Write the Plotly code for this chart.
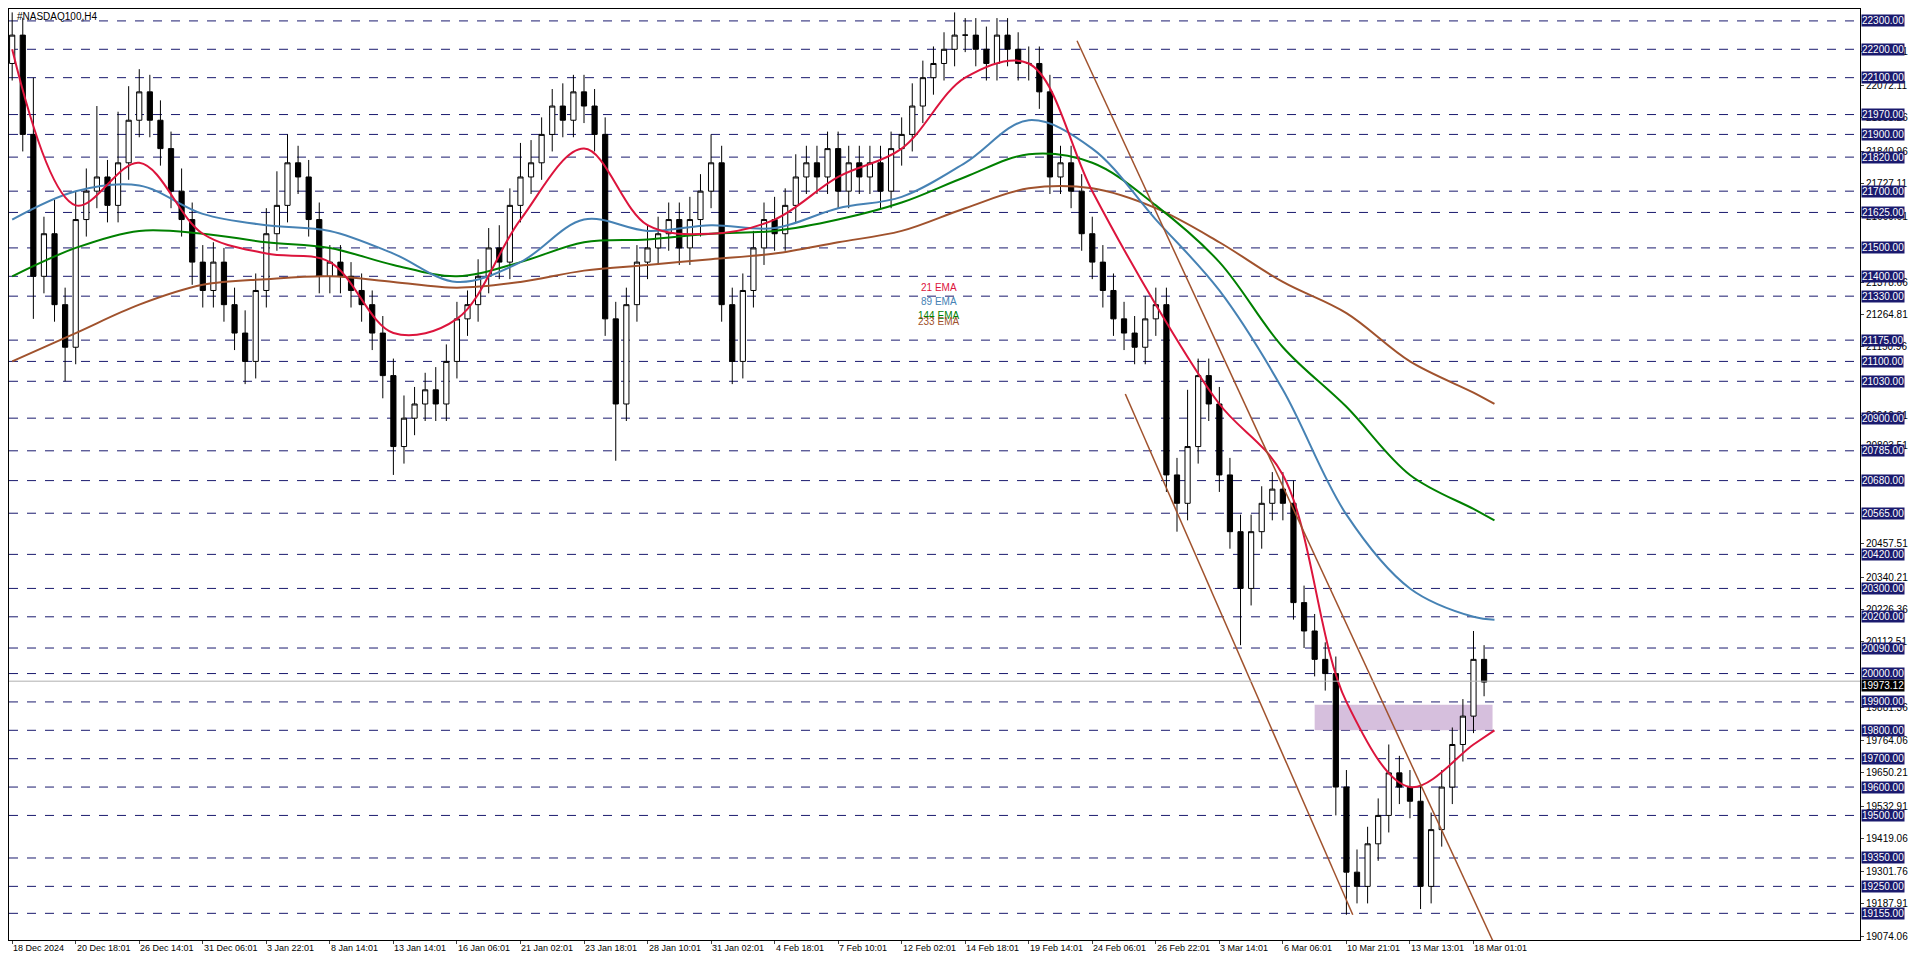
import plotly.graph_objects as go

title = "#NASDAQ100,H4"
tick_labels = ["18 Dec 2024","20 Dec 18:01","26 Dec 14:01","31 Dec 06:01","3 Jan 22:01","8 Jan 14:01",
               "13 Jan 14:01","16 Jan 06:01","21 Jan 02:01","23 Jan 18:01","28 Jan 10:01","31 Jan 02:01",
               "4 Feb 18:01","7 Feb 10:01","12 Feb 02:01","14 Feb 18:01","19 Feb 14:01","24 Feb 06:01",
               "26 Feb 22:01","3 Mar 14:01","6 Mar 06:01","10 Mar 21:01","13 Mar 13:01","18 Mar 01:01"]
bars_per_label = 6

first_open = 22150
closes = [22250,21900,21400,21550,21300,21150,
          21600,21700,21750,21650,21800,21950,
          22050,21950,21850,21700,21600,21450,
          21350,21450,21300,21200,21100,21350,
          21550,21650,21800,21750,21600,21400,
          21450,21400,21350,21300,21200,21050,
          20800,20900,20950,21000,20950,21100,
          21250,21300,21400,21500,21450,21650,
          21750,21800,21900,22000,21950,22050,
          22000,21900,21250,20950,21300,21450,
          21500,21550,21600,21500,21600,21700,
          21800,21300,21100,21350,21500,21600,
          21550,21650,21750,21800,21750,21850,
          21700,21800,21750,21800,21700,21850,
          21900,22000,22100,22150,22200,22250,
          22250,22200,22150,22250,22200,22150,
          22150,22050,21750,21800,21700,21550,
          21450,21350,21250,21200,21150,21250,
          21300,20700,20600,20800,21050,20950,
          20700,20500,20300,20500,20600,20650,
          20600,20250,20150,20050,20000,19600,
          19300,19250,19400,19500,19650,19600,
          19550,19250,19450,19600,19750,19850,
          20050,19970]
wick_up = [80,60,200,60,120,60,
           100,80,250,60,180,120,
           80,60,70,60,80,60,
           60,70,50,60,80,60,
           90,120,100,60,60,60,
           60,60,50,60,50,60,
           60,80,60,60,80,60,
           60,50,60,70,80,60,
           120,80,60,60,80,60,
           60,60,60,60,60,60,
           80,60,60,60,80,60,
           100,60,60,60,60,60,
           80,60,80,60,60,60,
           60,60,60,60,60,60,
           60,80,60,60,60,80,
           60,60,80,60,60,60,
           60,60,60,60,60,60,
           60,60,60,60,60,80,
           60,60,60,200,60,60,
           60,60,60,60,60,60,
           60,80,60,60,60,60,
           60,80,60,60,100,60,
           60,60,60,60,60,60,
           100,50]
wick_dn = [60,60,150,60,60,120,
           60,60,60,60,60,60,
           60,60,60,60,60,80,
           60,60,60,60,80,60,
           60,60,60,60,60,60,
           60,60,60,60,60,80,
           100,60,60,60,60,60,
           60,60,60,60,60,60,
           60,60,60,60,60,60,
           60,60,60,200,60,60,
           60,60,60,60,60,60,
           60,60,80,60,60,60,
           60,60,60,60,60,60,
           60,60,60,60,60,60,
           60,60,60,60,60,60,
           60,60,60,60,60,60,
           60,60,60,60,60,60,
           60,60,60,60,60,60,
           60,60,100,60,60,60,
           60,60,200,60,60,60,
           60,60,60,60,60,100,
           150,60,60,60,60,60,
           60,80,60,60,60,60,
           60,50]

ema_k = list(range(24)) + [23.33]
ema21 = [22200,21650,21800,21550,21480,21450,21200,21250,21600,21850,21580,21550,21600,21750,21850,22100,22150,21700,21300,20950,20700,19900,19600,19750,19800]
ema89 = [21600,21700,21720,21620,21580,21560,21480,21380,21450,21600,21560,21580,21570,21640,21680,21800,21950,21850,21600,21350,21000,20560,20300,20200,20190]
ema144 = [21400,21500,21560,21550,21520,21500,21440,21400,21450,21520,21530,21550,21560,21600,21660,21750,21830,21800,21650,21450,21150,20940,20700,20580,20540]
ema233 = [21100,21200,21300,21370,21390,21400,21380,21360,21380,21420,21440,21460,21480,21520,21560,21640,21710,21710,21640,21520,21380,21270,21100,20990,20950]

chan_upper_k = [16.76, 23.3]; chan_upper_p = [22230, 19060]
chan_lower_k = [17.52, 21.1]; chan_lower_p = [20985, 19150]
zone_k = [20.5, 23.3]; zone_p = [19800, 19890]

levels = [22300,22200,22100,21970,21900,21820,21700,21625,21500,21400,21330,21175,21100,21030,20900,
          20785,20680,20565,20420,20300,20200,20090,20000,19900,19800,19700,19600,19500,19350,19250,19155]
plain_ticks = [22193.41,22072.11,21958.26,21840.96,21727.11,21609.61,21378.66,21264.81,21150.96,20910.31,
               20803.51,20457.51,20340.21,20226.36,20112.51,19881.36,19764.06,19650.21,19532.91,19419.06,
               19301.76,19187.91,19074.06]
last_price = 19973.12

FONT = "Liberation Sans"
n = len(closes)
x = list(range(n))
opens = [first_open] + closes[:-1]
highs = [max(o, c) + w for o, c, w in zip(opens, closes, wick_up)]
lows = [min(o, c) - w for o, c, w in zip(opens, closes, wick_dn)]
kx = lambda ks: [k * bars_per_label for k in ks]

fig = go.Figure()
fig.add_shape(type="rect", x0=kx(zone_k)[0], x1=kx(zone_k)[1], y0=zone_p[0], y1=zone_p[1],
              fillcolor="rgba(200,170,210,0.75)", line_width=0, layer="below")
for lv in levels:
    fig.add_shape(type="line", xref="paper", x0=0, x1=1, y0=lv, y1=lv,
                  line=dict(color="#1a1a6e", width=1, dash="dash"), layer="below")
    fig.add_annotation(xref="paper", x=1, y=lv, text=f"{lv:.2f}", xanchor="left", xshift=1,
                       showarrow=False, bgcolor="#1a1a6e", font=dict(color="white", size=10, family=FONT),
                       borderpad=0)
fig.add_shape(type="line", xref="paper", x0=0, x1=1, y0=last_price, y1=last_price,
              line=dict(color="#b0b0b0", width=1))
fig.add_annotation(xref="paper", x=1, y=last_price, text=f"{last_price:.2f}", xanchor="left", xshift=1, yshift=-4,
                   showarrow=False, bgcolor="black", font=dict(color="white", size=10, family=FONT), borderpad=0)

fig.add_trace(go.Candlestick(x=x, open=opens, high=highs, low=lows, close=closes,
                             increasing=dict(line=dict(color="black", width=1), fillcolor="white"),
                             decreasing=dict(line=dict(color="black", width=1), fillcolor="black"),
                             whiskerwidth=0, showlegend=False))
for vals, col in [(ema233, "#a0522d"), (ema144, "#008000"), (ema89, "#4682b4"), (ema21, "#dc143c")]:
    fig.add_trace(go.Scatter(x=kx(ema_k), y=vals, mode="lines", line=dict(color=col, width=2, shape="spline"),
                             showlegend=False, hoverinfo="skip"))
for ks, ps in [(chan_upper_k, chan_upper_p), (chan_lower_k, chan_lower_p)]:
    fig.add_trace(go.Scatter(x=kx(ks), y=ps, mode="lines", line=dict(color="#a0522d", width=1.5),
                             showlegend=False, hoverinfo="skip"))

for i, (t, c) in enumerate([("21 EMA", "#dc143c"), ("89 EMA", "#4682b4"), ("144 EMA", "#008000"), ("233 EMA", "#a0522d")]):
    fig.add_annotation(xref="paper", yref="paper", x=932/1855, y=1 - (271 + i*14)/932, text=t,
                       showarrow=False, font=dict(color=c, size=10, family=FONT), xanchor="center")
fig.add_annotation(xref="paper", yref="paper", x=0.003, y=1, text=title, showarrow=False, xanchor="left",
                   yanchor="top", font=dict(color="black", size=10, family=FONT))
for i, t in enumerate(tick_labels):
    fig.add_annotation(x=i * bars_per_label, yref="paper", y=0, yshift=-2, text=t, xanchor="left", yanchor="top",
                       showarrow=False, font=dict(color="black", size=9, family=FONT), borderpad=0)

fig.update_layout(width=1900, height=947, margin=dict(l=0, r=45, t=0, b=15),
                  plot_bgcolor="white", paper_bgcolor="white",
                  xaxis=dict(range=[-0.3, 174.5], tickvals=[i*bars_per_label for i in range(len(tick_labels))],
                             showticklabels=False, showgrid=False, rangeslider=dict(visible=False),
                             showline=True, linecolor="black", mirror=True, ticks="outside", ticklen=3,
                             zeroline=False),
                  yaxis=dict(range=[19061, 22342], side="right", tickvals=plain_ticks,
                             ticktext=[f"{v:.2f}" for v in plain_ticks], showgrid=False, showline=True,
                             linecolor="black", mirror=True, ticks="outside", ticklen=3, zeroline=False,
                             tickfont=dict(size=10, family=FONT, color="black")))
fig.write_html("out.html")
